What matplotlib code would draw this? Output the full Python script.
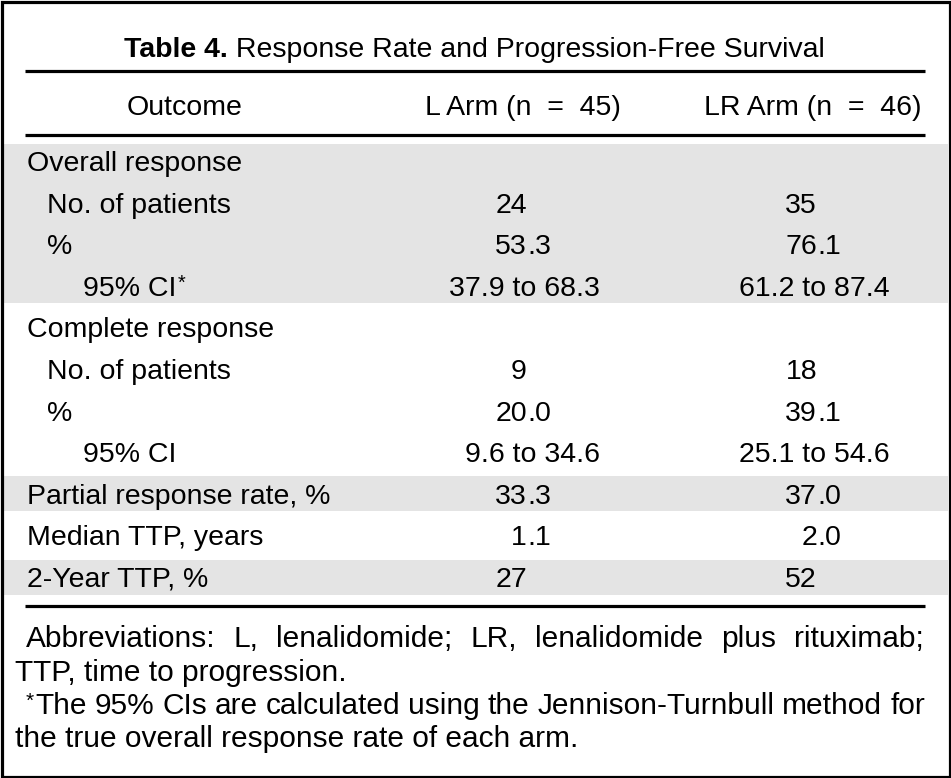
import matplotlib
matplotlib.use("Agg")
import matplotlib.pyplot as plt
from matplotlib import font_manager
from matplotlib.patches import Rectangle

# table content
title_bold = "Table 4."
title_rest = " Response Rate and Progression-Free Survival"
col_headers = ["Outcome", "L Arm (n  =  45)", "LR Arm (n  =  46)"]

row_labels = ["Overall response", "No. of patients", "%", "95% CI*",
              "Complete response", "No. of patients", "%", "95% CI",
              "Partial response rate, %", "Median TTP, years", "2-Year TTP, %"]
row_levels = [0, 1, 1, 2, 0, 1, 1, 2, 0, 0, 0]
l_arm = ["", "24", "53.3", "37.9 to 68.3", "", "9", "20.0", "9.6 to 34.6",
         "33.3", "1.1", "27"]
lr_arm = ["", "35", "76.1", "61.2 to 87.4", "", "18", "39.1", "25.1 to 54.6",
          "37.0", "2.0", "52"]
shaded = [(0, 3), (8, 8), (10, 10)]  # row ranges with grey background

footnotes = [
    ("Abbreviations: L, lenalidomide; LR, lenalidomide plus rituximab;", True),
    ("TTP, time to progression.", False),
    ("*The 95% CIs are calculated using the Jennison-Turnbull method for", True),
    ("the true overall response rate of each arm.", False),
]

W, H = 951, 778
names = {f.name for f in font_manager.fontManager.ttflist}
body_font = "Liberation Sans"
narrow_font = "Liberation Sans Narrow" if "Liberation Sans Narrow" in names else body_font
fs = 20.5
fs_foot = 21.5
grey = "#e4e4e4"
star_rise = 7

fig = plt.figure(figsize=(W / 100, H / 100), dpi=100)
ax = fig.add_axes([0, 0, 1, 1])
ax.set_xlim(0, W)
ax.set_ylim(H, 0)
ax.axis("off")
renderer = fig.canvas.get_renderer()

def width(t):
    return t.get_window_extent(renderer).width

def label(x, y, s, size):
    # trailing '*' drawn as a small superscript
    if s.endswith("*"):
        t = ax.text(x, y, s[:-1], fontsize=size, family=body_font, va="baseline")
        ax.text(x + width(t) + 1, y - star_rise, "*", fontsize=size * 0.7,
                family=body_font, va="baseline")
        return t
    return ax.text(x, y, s, fontsize=size, family=body_font, va="baseline")

row0, row_step = 161, 41.6
rows_y = [row0 + row_step * i for i in range(len(row_labels))]
cap = 10  # half cap height, px

# grey bands
for a, b in shaded:
    ax.add_patch(Rectangle((3, rows_y[a] - 17.5), W - 6, rows_y[b] - rows_y[a] + 35,
                           color=grey, lw=0, zorder=0))

# rules
for y in [71, 135, 606]:
    ax.plot([25, 925], [y, y], color="black", lw=2.3, solid_capstyle="butt")

# title
t1 = ax.text(0, 57, title_bold, fontsize=fs, family=narrow_font, weight="bold",
             va="baseline", ha="left")
t2 = ax.text(0, 57, title_rest, fontsize=fs, family=body_font, va="baseline", ha="left")
w1, w2 = width(t1), width(t2)
x0 = 474.5 - (w1 + w2) / 2
t1.set_x(x0)
t2.set_x(x0 + w1)

# header
ax.text(185, 115, col_headers[0], fontsize=fs, family=body_font, ha="center", va="baseline")
ax.text(523, 115, col_headers[1], fontsize=fs, family=body_font, ha="center", va="baseline")
ax.text(922, 115, col_headers[2], fontsize=fs, family=body_font, ha="right", va="baseline")

# body
indent = {0: 27, 1: 47, 2: 83}
def put_value(s, x_dec, x_ci, y):
    if not s:
        return
    if " to " in s:
        ax.text(x_ci, y, s, fontsize=fs, family=body_font, ha="right", va="baseline")
        return
    ip, _, fp = s.partition(".")
    ax.text(x_dec, y, ip, fontsize=fs, family=body_font, ha="right", va="baseline")
    if fp:
        ax.text(x_dec, y, "." + fp, fontsize=fs, family=body_font, ha="left", va="baseline")

for i, lab in enumerate(row_labels):
    y = rows_y[i] + cap
    label(indent[row_levels[i]], y, lab, fs)
    put_value(l_arm[i], 527, 600, y)
    put_value(lr_arm[i], 817, 890, y)

# footnotes, long lines justified
foot_y = [647, 681, 714, 747]
for (line, justify), y in zip(footnotes, foot_y):
    if not justify:
        ax.text(15, y, line, fontsize=fs_foot, family=body_font, ha="left", va="baseline")
        continue
    words = line.split(" ")
    objs = []
    for w in words:
        if w.startswith("*"):
            objs.append(ax.text(0, y - star_rise, "*", fontsize=fs_foot * 0.7,
                                family=body_font, va="baseline"))
            w = w[1:]
        objs.append(ax.text(0, y, w, fontsize=fs_foot, family=body_font, va="baseline"))
    widths = [width(o) for o in objs]
    left, right = 26, 925
    gap = (right - left - sum(widths) - 1) / (len(words) - 1)
    x = left
    for k, (o, w) in enumerate(zip(objs, widths)):
        o.set_x(x)
        if o.get_text() == "*" and k == 0:
            x += w + 1
        else:
            x += w + gap

# outer frame
ax.add_patch(Rectangle((1.5, 1.5), W - 3, H - 3, fill=False, ec="black", lw=2.3,
                       clip_on=False))

fig.savefig("out.png", dpi=100)
